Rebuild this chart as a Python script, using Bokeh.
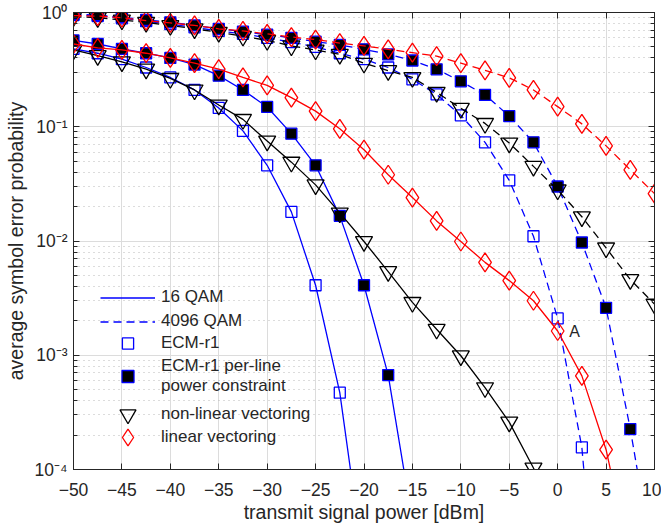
import math
from bokeh.plotting import figure
from bokeh.models import (Range1d, LogAxis, LinearAxis, Legend, LegendItem,
                          CustomJSTickFormatter, FixedTicker, LogTicker)
from bokeh.embed import file_html
from bokeh.resources import INLINE
from bokeh.core.properties import value

nan = float("nan")

# transmit signal power [dBm]
power_dbm = [-50, -47.5, -45, -42.5, -40, -37.5, -35, -32.5, -30, -27.5, -25, -22.5,
             -20, -17.5, -15, -12.5, -10, -7.5, -5, -2.5, 0, 2.5, 5, 7.5, 10]

# 16 QAM (solid)
ecm_16 = [0.48, 0.44, 0.39, 0.33, 0.27, 0.21, 0.146, 0.092, 0.046, 0.018, 0.0041, 0.00047,
          1.4e-5, nan, nan, nan, nan, nan, nan, nan, nan, nan, nan, nan, nan]
perline_16 = [0.57, 0.53, 0.48, 0.44, 0.40, 0.35, 0.28, 0.21, 0.149, 0.087, 0.046, 0.0166,
              0.0041, 0.00067, 3.5e-5, nan, nan, nan, nan, nan, nan, nan, nan, nan, nan]
nonlin_16 = [0.47, 0.42, 0.37, 0.32, 0.265, 0.21, 0.155, 0.116, 0.075, 0.049, 0.031, 0.0176,
             0.0099, 0.0054, 0.0029, 0.00169, 0.00099, 0.00052, 0.00026, 0.000103, 3.5e-5,
             nan, nan, nan, nan]
lin_16 = [0.53, 0.49, 0.47, 0.44, 0.40, 0.36, 0.32, 0.27, 0.23, 0.18, 0.137, 0.096,
          0.063, 0.038, 0.024, 0.015, 0.0099, 0.0065, 0.0045, 0.0030, 0.00163, 0.00066,
          0.000149, 1.6e-5, nan]

# 4096 QAM (dashed)
ecm_4096 = [0.95, 0.93, 0.89, 0.84, 0.79, 0.74, 0.69, 0.65, 0.60, 0.55, 0.50, 0.44,
            0.39, 0.33, 0.26, 0.192, 0.126, 0.073, 0.034, 0.011, 0.0021, 0.000156,
            6e-7, nan, nan]
perline_4096 = [0.97, 0.95, 0.91, 0.86, 0.82, 0.77, 0.72, 0.68, 0.64, 0.60, 0.555, 0.52,
                0.476, 0.43, 0.38, 0.318, 0.25, 0.19, 0.124, 0.073, 0.030, 0.0097,
                0.0026, 0.000226, 1.3e-5]
nonlin_4096 = [0.92, 0.90, 0.86, 0.82, 0.77, 0.72, 0.67, 0.62, 0.57, 0.51, 0.47, 0.43,
               0.36, 0.31, 0.27, 0.20, 0.145, 0.107, 0.072, 0.045, 0.028, 0.0163,
               0.0087, 0.0046, 0.0028]
lin_4096 = [0.94, 0.93, 0.90, 0.85, 0.81, 0.77, 0.72, 0.69, 0.65, 0.61, 0.58, 0.54,
            0.51, 0.476, 0.445, 0.415, 0.36, 0.312, 0.268, 0.21, 0.15, 0.106,
            0.068, 0.042, 0.026]

x_ticks = [-50, -45, -40, -35, -30, -25, -20, -15, -10, -5, 0, 5, 10]

annot_text = "A"
annot_x = 1.2
annot_y = 0.0016

FONT = "Liberation Sans"
AX = "#262626"

p = figure(width=661, height=528, output_backend="svg", toolbar_location=None,
           x_range=Range1d(-50, 10), y_range=Range1d(1e-4, 1), y_axis_type="log",
           min_border_left=73, min_border_right=7, min_border_top=12, min_border_bottom=59,
           x_axis_label="transmit signal power [dBm]",
           y_axis_label="average symbol error probability")
p.background_fill_color = "white"
p.border_fill_color = "white"
p.outline_line_color = AX
p.outline_line_width = 1

sup_js = """
const sup = {'-':'\u207b','0':'\u2070','1':'\u00b9','2':'\u00b2','3':'\u00b3','4':'\u2074',
             '5':'\u2075','6':'\u2076','7':'\u2077','8':'\u2078','9':'\u2079'};
const e = Math.round(Math.log10(tick));
return '10' + String(e).split('').map(c => sup[c]).join('');
"""

xt = FixedTicker(ticks=x_ticks)
yt = LogTicker(num_minor_ticks=10)

xa = p.xaxis[0]
xa.ticker = xt
ya = p.yaxis[0]
ya.ticker = yt
ya.formatter = CustomJSTickFormatter(code=sup_js)

for ax in (xa, ya):
    ax.axis_line_color = AX
    ax.major_tick_line_color = AX
    ax.minor_tick_line_color = AX
    ax.major_tick_in = 6
    ax.major_tick_out = 0
    ax.minor_tick_in = 4
    ax.minor_tick_out = 0
    ax.major_label_text_font = FONT
    ax.major_label_text_font_size = "17.5px"
    ax.major_label_text_color = AX
    ax.axis_label_text_font = FONT
    ax.axis_label_text_font_size = "19.5px"
    ax.axis_label_text_font_style = "normal"
    ax.axis_label_text_color = AX
    ax.major_label_standoff = 6
    ax.axis_label_standoff = 2
xa.minor_tick_line_color = None
xa.major_label_standoff = 13
ya.axis_label_standoff = 5

blank = CustomJSTickFormatter(code="return ''")
top = LinearAxis(ticker=FixedTicker(ticks=x_ticks), formatter=blank,
                 major_label_standoff=0, axis_line_color=AX, major_tick_line_color=AX,
                 major_tick_in=6, major_tick_out=0, minor_tick_line_color=None)
right = LogAxis(ticker=LogTicker(num_minor_ticks=10), formatter=CustomJSTickFormatter(code="return ''"),
                major_label_standoff=0, axis_line_color=AX, major_tick_line_color=AX,
                minor_tick_line_color=AX, major_tick_in=6, major_tick_out=0,
                minor_tick_in=4, minor_tick_out=0)
p.add_layout(top, "above")
p.add_layout(right, "right")

p.xgrid.grid_line_color = "#dcdcdc"
p.ygrid.grid_line_color = "#dcdcdc"
p.ygrid.minor_grid_line_color = "#b8b8b8"
p.ygrid.minor_grid_line_dash = "1 4"

LW = 1.3
DASH = "8 5"
BLUE = "#0000ff"
RED = "#ff0000"
BLACK = "#000000"

def series(y, color, dash, marker, size, fill, mline):
    ln = p.line(power_dbm, y, line_color=color, line_width=LW, line_dash=dash)
    sc = p.scatter(power_dbm, y, marker=marker, size=size, line_color=mline,
                   line_width=1.3, fill_color=fill)
    return ln, sc

l_ecm16, s_ecm16 = series(ecm_16, BLUE, "solid", "square", 11, None, BLUE)
l_ecm4096, s_ecm4096 = series(ecm_4096, BLUE, DASH, "square", 11, None, BLUE)
l_pl16, s_pl16 = series(perline_16, BLUE, "solid", "square", 11, BLACK, BLUE)
l_pl4096, s_pl4096 = series(perline_4096, BLUE, DASH, "square", 11, BLACK, BLUE)
l_nl16, s_nl16 = series(nonlin_16, BLACK, "solid", "inverted_triangle", 17, None, BLACK)
l_nl4096, s_nl4096 = series(nonlin_4096, BLACK, DASH, "inverted_triangle", 17, None, BLACK)
l_lin16, s_lin16 = series(lin_16, RED, "solid", "diamond", 19, None, RED)
l_lin4096, s_lin4096 = series(lin_4096, RED, DASH, "diamond", 19, None, RED)

p.text(x=[annot_x], y=[annot_y], text=[annot_text], text_font=value(FONT),
       text_font_size="16px", text_baseline="middle", text_align="left", text_color=AX)

# one single-item legend per entry, so every legend marker can get its own size
legend_entries = [
    ("16 QAM", l_ecm16, 25, 159.5),
    ("4096 QAM", l_ecm4096, 25, 135.5),
    ("ECM-r1", s_ecm16, 28, 112),
    ("ECM-r1 per-line\npower constraint", s_pl16, 30, 73),
    ("non-linear vectoring", s_nl16, 40, 35),
    ("linear vectoring", s_lin16, 42, 11),
]
for label, rend, gh, ly in legend_entries:
    lg = Legend(items=[LegendItem(label=label, renderers=[rend])], location=(27, ly))
    lg.border_line_color = None
    lg.background_fill_alpha = 0
    lg.padding = 0
    lg.margin = 0
    lg.glyph_width = 55
    lg.glyph_height = gh
    lg.label_height = 20
    lg.spacing = 0
    lg.label_standoff = 6
    lg.label_text_font = FONT
    lg.label_text_font_size = "17px"
    lg.label_text_color = AX
    lg.label_text_line_height = 1.4
    p.add_layout(lg, "center")

open("out.html", "w").write(file_html(p, INLINE))
